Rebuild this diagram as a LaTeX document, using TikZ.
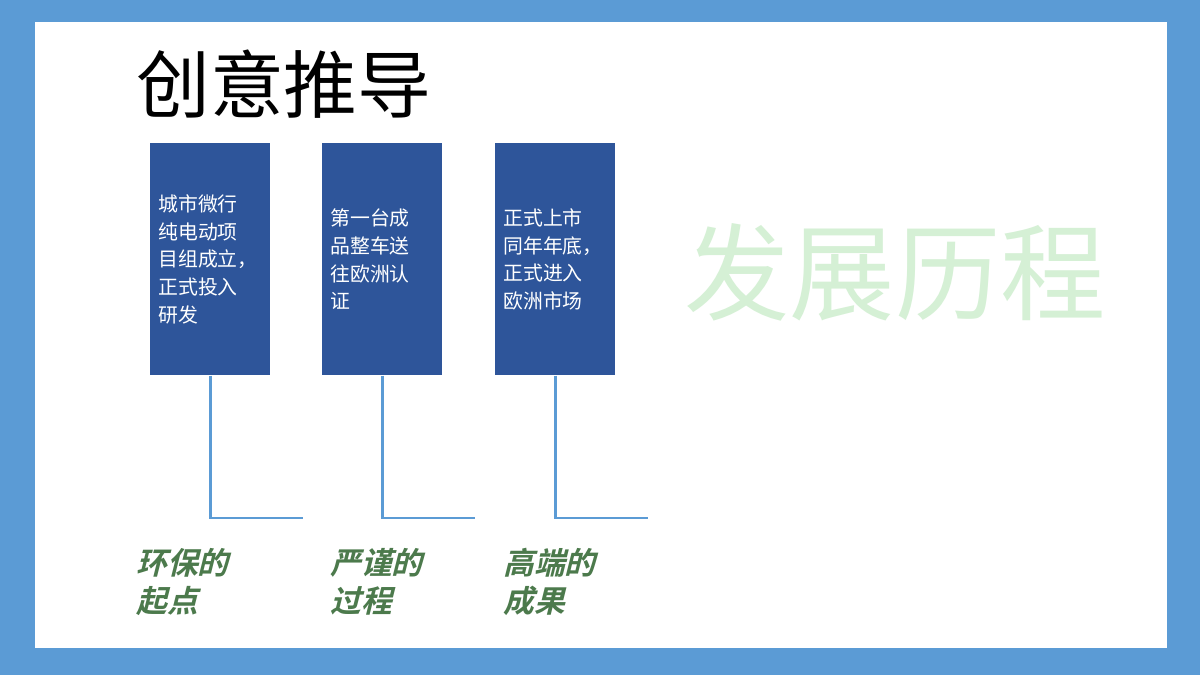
\documentclass[tikz,border=0pt]{standalone}
\usepackage{fontspec}
\newfontfamily\cjk{Noto Sans CJK SC}
\newfontfamily\cjkb[FakeSlant=0.25]{Noto Sans CJK SC Bold}
\definecolor{frame}{HTML}{5B9BD5}
\definecolor{boxc}{HTML}{2E559A}
\definecolor{lab}{HTML}{4C7A4C}
\definecolor{wm}{HTML}{D5F0D5}
\begin{document}
\begin{tikzpicture}[x=0.02cm,y=-0.02cm,
  card/.style={fill=boxc,draw=none,minimum width=2.4cm,minimum height=4.64cm,anchor=north west,inner sep=0},
  ctext/.style={text=white,font=\cjk\fontsize{11.3}{15.8}\selectfont,align=left,inner sep=0,anchor=west,xshift=0.16cm},
  conn/.style={draw=frame,line width=1.6pt},
  labl/.style={text=lab,font=\cjkb\fontsize{17.5}{21.5}\selectfont,align=left,anchor=north west,inner sep=0}]
\fill[frame] (0,0) rectangle (1200,675);
\fill[white] (35,22) rectangle (1167,648);
\node[anchor=west,inner sep=0,font=\cjk\fontsize{42}{42}\selectfont] (title) at (136,84) {创意推导};
\node[text=wm,font=\cjk\fontsize{60}{60}\selectfont,inner sep=0] (wm) at (895,272) {发展历程};
\node[card] (b1) at (150,143) {};
\node[card] (b2) at (322,143) {};
\node[card] (b3) at (495,143) {};
\node[ctext] (t1) at (b1.west) {城市微行\\纯电动项\\目组成立，\\正式投入\\研发};
\node[ctext] (t2) at (b2.west) {第一台成\\品整车送\\往欧洲认\\证};
\node[ctext] (t3) at (b3.west) {正式上市\\同年年底，\\正式进入\\欧洲市场};
\coordinate (c1) at (303,518);
\coordinate (c2) at (475,518);
\coordinate (c3) at (648,518);
\draw[conn] (b1.south) |- (c1);
\draw[conn] (b2.south) |- (c2);
\draw[conn] (b3.south) |- (c3);
\node[labl] (l1) at (136,548) {环保的\\起点};
\node[labl] (l2) at (330,548) {严谨的\\过程};
\node[labl] (l3) at (503,548) {高端的\\成果};
\end{tikzpicture}
\end{document}
